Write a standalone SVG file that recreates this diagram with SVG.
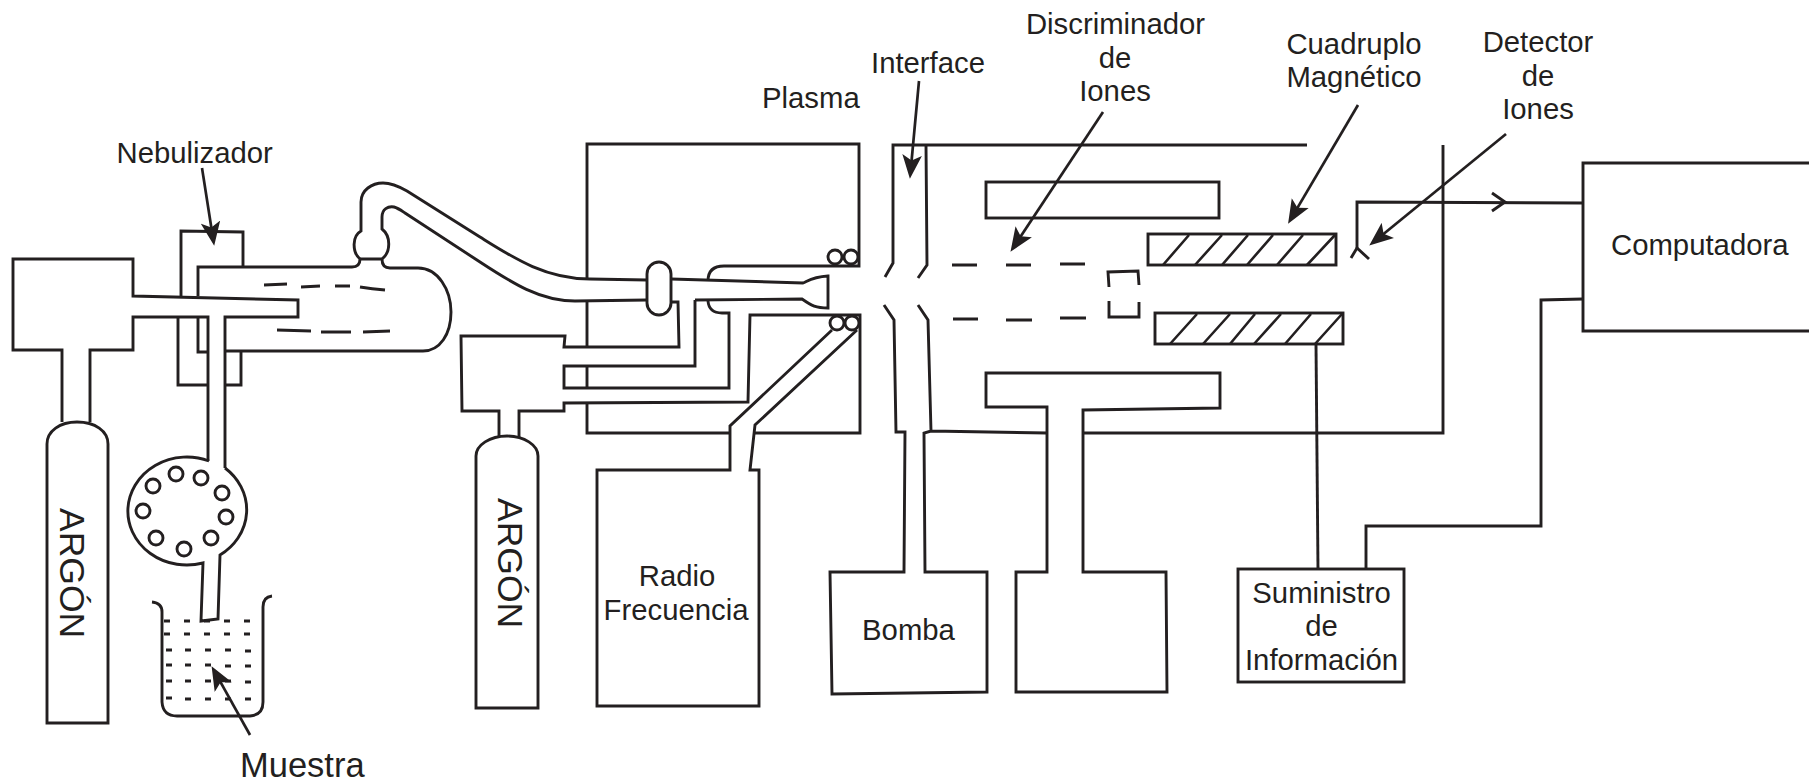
<svg xmlns="http://www.w3.org/2000/svg" width="1809" height="783" viewBox="0 0 1809 783">
<style>
text{font-family:"Liberation Sans",Arial,sans-serif;font-size:29.3px;fill:#231f20}
.m{text-anchor:middle}
path,line,rect,ellipse,circle{fill:none;stroke:#231f20;stroke-width:2.9;stroke-linejoin:miter}
.c{fill:#fff}
.th{stroke-width:2.6}
.arrow{stroke-width:2.7}
.head{fill:#231f20;stroke:none}
</style>
<defs>
<marker id="ah" markerUnits="userSpaceOnUse" markerWidth="24" markerHeight="20" viewBox="0 0 22 18" refX="12" refY="9" orient="auto"><path class="head" d="M0,0 L22,9 L0,18 L5,9 Z"/></marker>
</defs>
<rect width="1809" height="783" style="fill:#fff;stroke:none"/>

<g id="argon-1">
<path d="M47,723 V444 C47,431 60,422 77,422 C95,422 108,431 108,444 V723 Z"/>
<text transform="translate(60,508) rotate(90)" style="font-size:35.5px">ARGÓN</text>
</g>
<g id="regulador-1">
<path d="M62,422 V350 H13 V259 H133 V296 L298,300 V317 H225 V468 M90,422 V350 H133 V317 H208 V461"/>
</g>
<g id="nebulizador">
<path d="M181,297 V231 L243,232 V267 M178,317 V385 H207 M225,385 H241 V352"/>
<text x="116.5" y="163">Nebulizador</text>
</g>
<g id="camara">
<path d="M198,296 V267 H352 Q360,267 360,259 C352,252 352,236 361,231 V202 C361,190 372,183 383,183 C392,183 400,187 407,191 L480,237 C512,257 545,279 590,279 L647,280"/>
<path d="M360,259 H382 M418,268 H390 Q382,268 382,259 C391,252 391,236 382,229 V217 C382,209 388,206 394,207 C398,208 402,211 405,213 L480,262 C512,283 540,301 575,301 L647,300"/>
<path d="M418,268 C438,268 451,290 451,312 C451,334 440,351 423,351 H225 M208,352 H198 V318"/>
<path d="M264,285 L287,284 M301,287 L320,286 M335,286 L350,286 M360,287 Q372,289 385,290 M277,330 L311,331 M321,332 L351,332 M363,332 L390,331"/>
</g>
<g id="bomba-peristaltica">
<path d="M209,461 A59,54 0 1 0 203,563 L201,621 L218,619 L220,555 A59,54 0 0 0 225,468"/>
<circle cx="176" cy="474" r="7"/><circle cx="201" cy="478" r="7"/><circle cx="222" cy="493" r="7"/><circle cx="226" cy="517" r="7"/><circle cx="211" cy="538" r="7"/><circle cx="184" cy="549" r="7"/><circle cx="156" cy="538" r="7"/><circle cx="143" cy="511" r="7"/><circle cx="153" cy="486" r="7"/>
</g>
<g id="muestra">
<path d="M152,602 Q162,603 162,612 V702 Q163,716 177,716 H250 Q263,715 263,702 V607 Q263,597 272,596"/>
<path d="M164,621 h6 M184,621 h6 M204,621 h6 M224,621 h6 M244,621 h6 M164,634 h6 M184,634 h6 M204,634 h6 M224,634 h6 M244,634 h6 M166,650 h6 M185,650 h6 M205,650 h6 M225,650 h6 M245,651 h6 M166,665 h6 M185,665 h6 M205,665 h6 M225,666 h6 M245,666 h6 M166,681 h6 M185,681 h6 M205,681 h6 M225,681 h6 M245,682 h6 M166,698 h6 M185,699 h6 M205,699 h6 M225,699 h6 M245,699 h6"/>
<text x="240" y="777" style="font-size:34.5px">Muestra</text>
</g>
<g id="argon-2">
<path d="M476,708 V456 C476,445 490,436 507,436 C524,436 538,445 538,456 V708 Z"/>
<text transform="translate(498,498) rotate(90)" style="font-size:35.5px">ARGÓN</text>
</g>
<g id="regulador-2">
<path d="M499,437 V411 H462 L461,336 H565 L564,347 H679 L678,302 H671"/>
<path d="M519,437 V411 H564 V403 L748,402 L750,315 H860 V433 H755"/>
<path d="M695,300 V366 H564 V388 H729 V313 H722 Q709,313 708,301"/>
</g>
<g id="plasma">
<path d="M708,281 Q708,266 724,266 H859 V144 H587 V279 M587,301 V347 M587,366 V388 M587,403 V433 H730"/>
<rect class="c" x="647" y="262" width="24" height="53" rx="12"/>
<path d="M671,279 L803,283 C808,281 812,277 828,276 V308 C816,308 812,306 802,299 L695,300"/>
<circle class="c" cx="835" cy="257" r="7"/><circle class="c" cx="851" cy="257" r="7"/><circle class="c" cx="837" cy="323" r="7"/><circle class="c" cx="852" cy="323" r="7"/>
<text x="762" y="108">Plasma</text>
</g>
<g id="radio-frecuencia">
<path d="M832,330 L730,426 V470 H597 V706 H759 V470 H750 L755,425 L857,330"/>
<text class="m" x="677" y="586">Radio</text>
<text class="m" x="676" y="620">Frecuencia</text>
</g>
<g id="interface">
<path d="M1307,145 H893 V263 L885,277 M926,145 L927,265 L918,278 M884,305 L894,320 L896,432 H905 L904,572 H830 L832,694 L987,692 V572 H925 L924,433 L931,431 L1047,433 M918,305 L928,320 L931,431"/>
<text x="871" y="73">Interface</text>
</g>
<g id="bomba">
<text class="m" x="908.5" y="640">Bomba</text>
</g>
<g id="discriminador">
<rect x="986" y="182" width="233" height="36"/>
<path d="M952,265 H977 M1006,265 H1031 M1060,264 H1085 M953,319 H978 M1006,320 H1032 M1060,318 H1086"/>
<path d="M1109,287 L1108,272 L1138,271 L1139,285 M1109,301 V317 H1139 V302"/>
<text class="m" x="1115.5" y="34">Discriminador</text>
<text class="m" x="1115" y="68">de</text>
<text class="m" x="1115" y="101">Iones</text>
</g>
<g id="cuadrupolo">
<rect x="1148" y="234" width="188" height="31"/>
<rect x="1155" y="313" width="188" height="31"/>
<path class="th" d="M1163,265 L1189,235 M1195,265 L1222,235 M1222,265 L1248,235 M1247,265 L1273,235 M1277,265 L1303,235 M1307,265 L1335,235 M1170,344 L1197,314 M1203,344 L1230,314 M1230,344 L1255,314 M1254,344 L1281,314 M1285,344 L1311,314 M1315,344 L1342,314"/>
<text class="m" x="1354" y="54">Cuadruplo</text>
<text class="m" x="1354" y="87">Magnético</text>
</g>
<g id="camara-vacio">
<path d="M986,407 V373 H1220 V408 L1083,410 V572 H1166 L1167,692 H1016 V572 H1047 V407 H986 Z"/>
<path d="M1083,433 H1443 V145"/>
</g>
<g id="detector">
<path d="M1351,258 L1357,248 L1369,259"/>
<text class="m" x="1538" y="52">Detector</text>
<text class="m" x="1538" y="86">de</text>
<text class="m" x="1538" y="119">Iones</text>
</g>
<g id="suministro">
<rect x="1238" y="569" width="166" height="113"/>
<text class="m" x="1321.5" y="603">Suministro</text>
<text class="m" x="1321.5" y="636">de</text>
<text class="m" x="1321.5" y="670">Información</text>
</g>
<g id="computadora">
<path d="M1812,163 H1583 V331 H1812"/>
<text x="1611" y="255">Computadora</text>
</g>

<g id="connectors">
<path d="M1357,248 V202 L1583,203"/>
<path d="M1492,193 L1505,202 L1492,211"/>
<path d="M1316,344 L1318,570"/>
<path d="M1366,569 V526 H1541 V300 L1583,299"/>
<line class="arrow" x1="202" y1="168" x2="212.5" y2="235" marker-end="url(#ah)"/>
<line class="arrow" x1="250" y1="735" x2="216.9" y2="675.7" marker-end="url(#ah)"/>
<line class="arrow" x1="919" y1="81" x2="910.9" y2="168" marker-end="url(#ah)"/>
<line class="arrow" x1="1103" y1="112" x2="1016.5" y2="242.7" marker-end="url(#ah)"/>
<line class="arrow" x1="1358" y1="105" x2="1293.6" y2="214.4" marker-end="url(#ah)"/>
<line class="arrow" x1="1506" y1="134" x2="1377.7" y2="238.7" marker-end="url(#ah)"/>
</g>
</svg>
